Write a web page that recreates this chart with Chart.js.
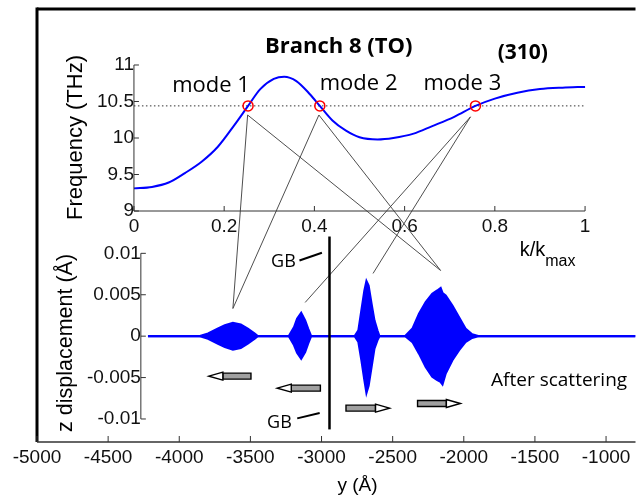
<!DOCTYPE html>
<html>
<head>
<meta charset="utf-8">
<script src="https://cdn.jsdelivr.net/npm/chart.js@4.4.1/dist/chart.umd.min.js"></script>
<style>
  html, body { margin: 0; padding: 0; background: #fff; }
  #wrap { position: relative; width: 642px; height: 496px; }
</style>
</head>
<body>
<div id="wrap"><canvas id="chart" width="642" height="496"></canvas></div>
<script>
// ---- dispersion curve, branch 8 (TO), (310) ----
const kVals    = [0, 0.04, 0.077, 0.113, 0.15, 0.186, 0.223, 0.253, 0.28, 0.31, 0.333, 0.36, 0.39, 0.412, 0.44, 0.47, 0.50, 0.54, 0.575, 0.62, 0.66, 0.71, 0.757, 0.80, 0.85, 0.90, 0.95, 1.0];
const freqVals = [9.31, 9.33, 9.39, 9.52, 9.675, 9.88, 10.18, 10.44, 10.67, 10.81, 10.84, 10.78, 10.60, 10.44, 10.24, 10.10, 10.01, 9.98, 10.0, 10.06, 10.16, 10.29, 10.44, 10.54, 10.62, 10.67, 10.69, 10.70];
const modeK = [0.253, 0.412, 0.757];
const modeFreq = 10.44;
const modeNames = ['mode 1', 'mode 2', 'mode 3'];
const kTicks = [0, 0.2, 0.4, 0.6, 0.8, 1];
const freqTicks = [9, 9.5, 10, 10.5, 11];

// ---- wave packets after scattering (envelope) ----
const posY = [-4220, -3855, -3797, -3727, -3679, -3623, -3568, -3519, -3470, -3449,
              -3229, -3192, -3171, -3143, -3116, -3095, -3074,
              -2766, -2740, -2719, -2698, -2684, -2670, -2649, -2629, -2608, -2594,
              -2411, -2360, -2314, -2267, -2221, -2186, -2163, -2150, -2128, -2081, -2035, -1989, -1942, -1898,
              -793];
const dispUpper = [0, 0, 0.0003, 0.0009, 0.0013, 0.0016, 0.0014, 0.0009, 0.0003, 0,
                   0, 0.0011, 0.0021, 0.0028, 0.0019, 0.0009, 0,
                   0, 0.0007, 0.0031, 0.0055, 0.0066, 0.0061, 0.0039, 0.0019, 0.0007, 0,
                   0, 0.0009, 0.0027, 0.0041, 0.0051, 0.0055, 0.0058, 0.0052, 0.0049, 0.0037, 0.0023, 0.0009, 0.0002, 0,
                   0];
const dispLower = [0, 0, -0.0003, -0.0009, -0.0013, -0.0016, -0.0014, -0.0009, -0.0003, 0,
                   0, -0.0011, -0.0020, -0.0027, -0.0019, -0.0009, 0,
                   0, -0.0007, -0.0029, -0.0053, -0.0068, -0.0060, -0.0037, -0.0015, -0.0005, 0,
                   0, -0.0007, -0.0021, -0.0037, -0.0049, -0.0053, -0.0055, -0.0058, -0.0045, -0.0029, -0.0017, -0.0007, -0.0002, 0,
                   0];
const posTicks = [-5000, -4500, -4000, -3500, -3000, -2500, -2000, -1500, -1000];
const dispTicks = [-0.01, -0.005, 0, 0.005, 0.01];

// mode -> packet links
const linkK    = [0.252, 0.410, 0.252, 0.410, 0.746, 0.746];
const linkF    = [10.315, 10.315, 10.315, 10.315, 10.29, 10.29];
const linkPos  = [-3623, -3623, -2163, -2163, -3115, -2638];
const linkDisp = [0.00334, 0.00334, 0.00793, 0.00793, 0.00407, 0.00757];

// propagation arrows (tail, head, height)
const arrowTail = [-3496, -3008, -2828, -2325];
const arrowHead = [-3792, -3311, -2522, -2024];
const arrowDisp = [-0.00483, -0.00628, -0.00869, -0.00813];

const gbPos = -2944;

// scale ranges, both panels share one chart area
const posMin = -5000, posMax = -793;
const dispMin = -0.01278, dispMax = 0.0395;
const kMin = -0.2149, kMax = 1.1118;
const fMin = 5.836, fMax = 11.767;

const BLUE = '#0000ff';
const tickFont = { family: 'Liberation Sans, Arial, sans-serif', size: 19, lineHeight: 0.9 };

function fixTicks(list) {
  return function (s) { s.ticks = list.map(v => ({ value: v })); };
}
// invisible tick marks only used as label gap
function gap(n) {
  return { display: true, drawOnChartArea: false, drawTicks: true, tickLength: n, color: 'rgba(0,0,0,0)' };
}

const overlay = {
  id: 'overlay',
  afterDatasetsDraw(c) {
    const ctx = c.ctx;
    const X = v => c.scales.x.getPixelForValue(v);
    const Y = v => c.scales.y.getPixelForValue(v);
    const K = v => c.scales.xk.getPixelForValue(v);
    const F = v => c.scales.yf.getPixelForValue(v);
    const a = c.chartArea;
    const line = (x0, y0, x1, y1, w, col) => {
      ctx.beginPath(); ctx.moveTo(x0, y0); ctx.lineTo(x1, y1);
      ctx.lineWidth = w; ctx.strokeStyle = col; ctx.stroke();
    };
    const text = (s, x, y, font, align) => {
      ctx.font = font; ctx.fillStyle = '#000';
      ctx.textAlign = align || 'center'; ctx.textBaseline = 'middle';
      ctx.fillText(s, x, y);
    };
    ctx.save();

    // outer frame of the lower panel
    line(a.left, a.top, a.right, a.top, 3, '#000');
    line(a.left, a.top - 1.5, a.left, a.bottom, 3, '#000');
    line(a.left, a.bottom, a.right, a.bottom, 1.5, '#333');
    posTicks.forEach(v => line(X(v), a.bottom, X(v), a.bottom - 6, 1, '#333'));

    // inner displacement axis
    const yx = X(-4270);
    line(yx, Y(0.01), yx, Y(-0.01), 1, '#333');
    dispTicks.forEach(v => line(yx, Y(v), yx + 5, Y(v), 1, '#333'));

    // dispersion panel axes
    line(K(0), F(11), K(0), F(9), 1, '#333');
    line(K(0), F(9), K(1), F(9), 1, '#333');
    freqTicks.forEach(v => line(K(0), F(v), K(0) + 5, F(v), 1, '#333'));
    kTicks.forEach(v => line(K(v), F(9), K(v), F(9) - 5, 1, '#333'));

    // links between modes and packets
    for (let i = 0; i < linkK.length; i++) {
      line(K(linkK[i]), F(linkF[i]), X(linkPos[i]), Y(linkDisp[i]), 0.9, '#3a3a3a');
    }

    // grain boundary
    line(X(gbPos), Y(0.01203), X(gbPos), Y(-0.01126), 2.5, '#000');
    line(X(-3155), Y(0.00914), X(-2997), Y(0.01007), 2, '#000');
    line(X(-3171), Y(-0.00993), X(-3013), Y(-0.00929), 2, '#000');
    text('GB', X(-3268), Y(0.00902), '18px "Open Sans", sans-serif');
    text('GB', X(-3296), Y(-0.01042), '18px "Open Sans", sans-serif');

    // arrows
    for (let i = 0; i < arrowTail.length; i++) {
      const x0 = X(arrowTail[i]), x1 = X(arrowHead[i]), y = Y(arrowDisp[i]);
      const dir = x1 > x0 ? 1 : -1;
      const hl = 14, hb = x1 - dir * hl;
      ctx.lineWidth = 1.4; ctx.strokeStyle = '#000';
      ctx.fillStyle = '#a0a0a0';
      ctx.beginPath(); ctx.rect(Math.min(x0, hb), y - 3, Math.abs(hb - x0), 6); ctx.fill(); ctx.stroke();
      ctx.fillStyle = '#fff';
      ctx.beginPath(); ctx.moveTo(x1, y); ctx.lineTo(hb, y - 4); ctx.lineTo(hb, y + 4); ctx.closePath();
      ctx.fill(); ctx.stroke();
    }

    // labels
    text('Branch 8 (TO)', K(0.454), F(11.247), 'bold 22px "Open Sans", sans-serif');
    text('(310)', K(0.862), F(11.164), 'bold 21px "Open Sans", sans-serif');
    modeNames.forEach((s, i) => text(s, K([0.171, 0.498, 0.728][i]), F([10.72, 10.745, 10.745][i]), '22px "Open Sans", sans-serif'));
    text('After scattering', X(-1330), Y(-0.00535), '19px "Open Sans", sans-serif');

    // k/k_max
    ctx.font = '20px "Liberation Sans", Arial, sans-serif';
    ctx.textAlign = 'left'; ctx.textBaseline = 'alphabetic'; ctx.fillStyle = '#000';
    const kx = K(0.855), ky = F(8.384);
    ctx.fillText('k/k', kx, ky);
    const kw = ctx.measureText('k/k').width;
    ctx.font = '16px "Liberation Sans", Arial, sans-serif';
    ctx.fillText('max', kx + kw, ky + 10);

    // axis titles
    text('y (\u00C5)', X(-2747), Y(-0.01803), '19px "Liberation Sans", Arial, sans-serif');
    ctx.save();
    ctx.translate(K(-0.129), F(10.007)); ctx.rotate(-Math.PI / 2);
    text('Frequency (THz)', 0, 0, '22px "Liberation Sans", Arial, sans-serif');
    ctx.restore();
    ctx.save();
    ctx.translate(X(-4798), Y(-0.00082)); ctx.rotate(-Math.PI / 2);
    text('z displacement (\u00C5)', 0, 0, '21.5px "Liberation Sans", Arial, sans-serif');
    ctx.restore();

    ctx.restore();
  }
};

const chart = new Chart(document.getElementById('chart'), {
  type: 'line',
  data: {
    datasets: [
      {
        label: 'modes',
        xAxisID: 'xk', yAxisID: 'yf',
        data: modeK.map(k => ({ x: k, y: modeFreq })),
        showLine: false,
        pointRadius: 5, pointBorderWidth: 1.5,
        pointBorderColor: '#ff0000', pointBackgroundColor: 'rgba(0,0,0,0)',
        order: 0
      },
      {
        label: 'branch 8',
        xAxisID: 'xk', yAxisID: 'yf',
        data: kVals.map((k, i) => ({ x: k, y: freqVals[i] })),
        borderColor: BLUE, borderWidth: 2,
        cubicInterpolationMode: 'monotone',
        pointRadius: 0, fill: false,
        order: 1
      },
      {
        label: 'level',
        xAxisID: 'xk', yAxisID: 'yf',
        data: [{ x: 0, y: modeFreq }, { x: 1, y: modeFreq }],
        borderColor: '#333', borderWidth: 1, borderDash: [1.5, 2.5],
        pointRadius: 0, fill: false,
        order: 2
      },
      {
        label: 'upper',
        data: posY.map((p, i) => ({ x: p, y: dispUpper[i] })),
        borderColor: BLUE, borderWidth: 2.4,
        pointRadius: 0, fill: false,
        order: 3
      },
      {
        label: 'lower',
        data: posY.map((p, i) => ({ x: p, y: dispLower[i] })),
        borderColor: BLUE, borderWidth: 2.4, backgroundColor: BLUE,
        pointRadius: 0, fill: '-1',
        order: 4
      }
    ]
  },
  options: {
    responsive: false,
    animation: false,
    devicePixelRatio: 1,
    layout: { padding: { left: 37, top: 9, right: 0, bottom: 54 } },
    plugins: { legend: { display: false }, tooltip: { enabled: false }, title: { display: false } },
    scales: {
      x: {
        type: 'linear', axis: 'x', min: posMin, max: posMax,
        position: { y: dispMin },
        afterBuildTicks: fixTicks(posTicks),
        grid: gap(7), border: { display: false },
        ticks: { font: tickFont, color: '#111', padding: 0, autoSkip: false, maxRotation: 0, callback: v => String(v) }
      },
      y: {
        type: 'linear', axis: 'y', min: dispMin, max: dispMax,
        position: { x: -4270 },
        afterBuildTicks: fixTicks(dispTicks),
        grid: gap(5), border: { display: false },
        ticks: { font: tickFont, color: '#111', padding: 0, autoSkip: false, callback: v => String(v) }
      },
      xk: {
        type: 'linear', axis: 'x', min: kMin, max: kMax,
        position: { yf: 9 },
        afterBuildTicks: fixTicks(kTicks),
        grid: gap(7), border: { display: false },
        ticks: { font: tickFont, color: '#111', padding: 0, autoSkip: false, maxRotation: 0, callback: v => String(v) }
      },
      yf: {
        type: 'linear', axis: 'y', min: fMin, max: fMax,
        position: { xk: 0 },
        afterBuildTicks: fixTicks(freqTicks),
        grid: gap(8), border: { display: false },
        ticks: { font: tickFont, color: '#111', padding: 0, autoSkip: false, callback: v => String(v) }
      }
    }
  },
  plugins: [overlay]
});
</script>
</body>
</html>
